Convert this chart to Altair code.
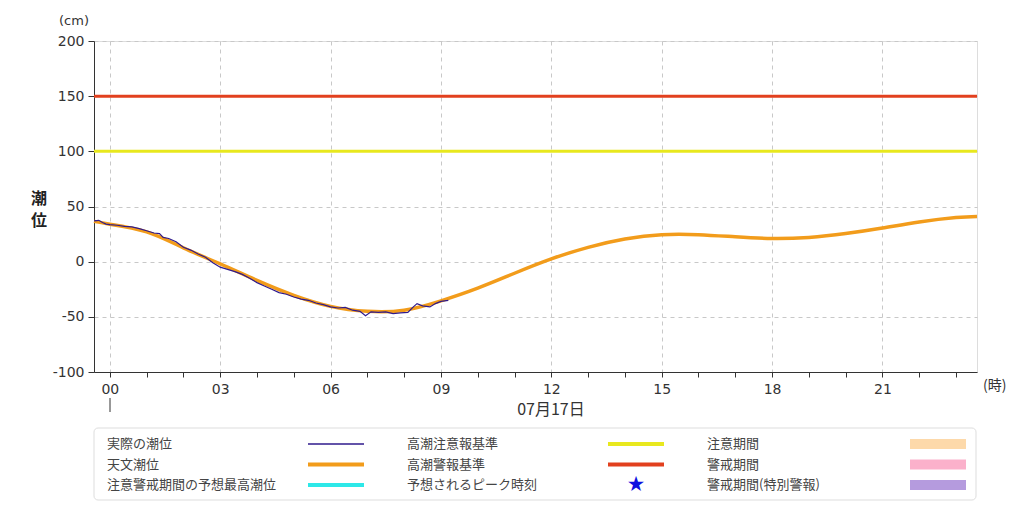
import altair as alt
import pandas as pd

# ---------------- data ----------------
hours_astro = [-0.43, 0, 1, 2, 3, 4, 5, 6, 7, 8, 9, 10, 11, 12, 13, 14, 15, 16,
               17, 18, 19, 20, 21, 22, 23, 23.57]
astro_cm = [36.5, 34, 27, 12.5, -2, -17, -30.5, -40.5, -45, -44, -35.5, -24, -10.5, 2.5,
            13, 20.5, 24.5, 24.5, 22.5, 21, 22, 25.5, 30.5, 36, 40, 41]

hours_obs = [-0.43, -0.3, -0.2, -0.1, 0, 0.2, 0.4, 0.6, 0.8, 1.0, 1.2, 1.35, 1.45,
             1.6, 1.8, 2.0, 2.2, 2.4, 2.6, 2.8, 3.0, 3.2, 3.4, 3.6, 3.8, 4.0, 4.2,
             4.4, 4.6, 4.8, 5.0, 5.2, 5.4, 5.6, 5.8, 6.0, 6.2, 6.4, 6.6, 6.8, 6.95,
             7.1, 7.3, 7.5, 7.7, 7.9, 8.1, 8.25, 8.35, 8.5, 8.7, 8.85, 9.0, 9.2]
obs_cm = [37, 37.5, 35.5, 34, 33.5, 33, 32, 31.5, 30, 28, 26, 25.5, 22,
          21, 18, 13, 10.5, 7, 4, -1, -5, -7, -9, -11.5, -15, -19, -22,
          -25, -28, -29.5, -32, -34, -35, -37.5, -39, -41, -42, -41.5, -44, -45, -49,
          -45.5, -46, -45.5, -47, -46.5, -46, -41, -38, -40, -41, -38, -36, -35]

threshold_names = ["高潮注意報基準", "高潮警報基準"]
threshold_cm = [100, 150]
threshold_colors = ["#E8E81E", "#E2401E"]

hour_ticks = list(range(0, 24))
y_ticks = [-100, -50, 0, 50, 100, 150, 200]

date_label = "07月17日"
unit_x = "(時)"
unit_y = "(cm)"
y_title = ["潮", "位"]

legend_col1 = ["実際の潮位", "天文潮位", "注意警戒期間の予想最高潮位"]
legend_col1_colors = ["#2F1A8C", "#F29C1B", "#2DE8E8"]
legend_col2 = ["高潮注意報基準", "高潮警報基準", "予想されるピーク時刻"]
legend_col2_colors = ["#E8E81E", "#E2401E", "#1010E0"]
legend_col3 = ["注意期間", "警戒期間", "警戒期間(特別警報)"]
legend_col3_colors = ["#FDD9AA", "#FBB1CB", "#B59BDE"]

# ---------------- chart ----------------
W, H = 883, 331
NUM_FONT = "DejaVu Sans"
JP_FONT = "Noto Sans CJK JP"
TXT = "#333333"

x_scale = alt.Scale(domain=[-0.43, 23.57], nice=False, zero=False)
y_scale = alt.Scale(domain=[-100, 200], nice=False, zero=False)

x_axis = alt.Axis(
    values=hour_ticks, grid=True, gridDash=[4, 4], gridColor="#c8c8c8",
    gridOpacity={"condition": {"test": "datum.value % 3 === 0", "value": 1}, "value": 0},
    title=None,
    labelExpr="datum.value % 3 === 0 ? (datum.value < 10 ? '0' + datum.value : '' + datum.value) : ''",
    tickSize=5, tickColor="#333", domainColor="#333", labelPadding=5,
    labelFont=NUM_FONT, labelFontSize=14, labelColor=TXT,
)
y_axis = alt.Axis(
    values=y_ticks, grid=True, gridDash=[4, 4], gridColor="#c8c8c8", title=None,
    labelExpr="'' + datum.value",
    tickSize=6, tickColor="#333", domainColor="#333", labelPadding=4,
    labelFont=NUM_FONT, labelFontSize=14, labelColor=TXT,
)

X = alt.X("t:Q", scale=x_scale, axis=x_axis)
Y = alt.Y("v:Q", scale=y_scale, axis=y_axis)

astro_df = pd.DataFrame({"t": hours_astro, "v": astro_cm})
obs_df = pd.DataFrame({"t": hours_obs, "v": obs_cm})
thr_df = pd.DataFrame({"name": threshold_names, "v": threshold_cm})

astro = alt.Chart(astro_df).mark_line(color="#F29C1B", strokeWidth=3.5, interpolate="natural").encode(x=X, y=Y)
obs = alt.Chart(obs_df).mark_line(color="#2F1A8C", strokeWidth=1.2).encode(x=X, y=Y)

thr = alt.Chart(thr_df).mark_rule(strokeWidth=3).encode(
    y=Y,
    color=alt.Color("name:N", scale=alt.Scale(domain=threshold_names, range=threshold_colors), legend=None),
)

dummy = pd.DataFrame({"a": [0]})


def text_at(txt, x, y, size, font=JP_FONT, weight="normal", align="left", color=TXT):
    return alt.Chart(dummy).mark_text(
        text=txt, fontSize=size, font=font, fontWeight=weight, align=align,
        baseline="middle", color=color,
    ).encode(x=alt.value(x), y=alt.value(y))


deco = []
# day marker under 00 and date label
deco.append(alt.Chart(dummy).mark_rule(color="#333", strokeWidth=1).encode(
    x=alt.value(16), y=alt.value(357), y2=alt.value(371)))
deco.append(text_at(date_label, 457, 369, 16, align="center"))
deco.append(text_at(unit_x, 889, 345, 14, align="left"))
deco.append(text_at(unit_y, -20, -20, 13, font=NUM_FONT, align="center"))
deco.append(text_at(y_title[0], -55, 158, 16, weight="bold", align="center", color="#222"))
deco.append(text_at(y_title[1], -55, 180, 16, weight="bold", align="center", color="#222"))

# legend box
deco.append(alt.Chart(dummy).mark_rect(fill="white", stroke="#dddddd", strokeWidth=1, cornerRadius=4).encode(
    x=alt.value(0), x2=alt.value(882), y=alt.value(387), y2=alt.value(459)))

rows = [403, 423.5, 444]
widths1 = [1.3, 4, 4]
for i in range(3):
    deco.append(text_at(legend_col1[i], 13, rows[i], 13, color="#444"))
    deco.append(alt.Chart(dummy).mark_rule(color=legend_col1_colors[i], strokeWidth=widths1[i]).encode(
        x=alt.value(214), x2=alt.value(270), y=alt.value(rows[i])))
    deco.append(text_at(legend_col2[i], 313, rows[i], 13, color="#444"))
    if i < 2:
        deco.append(alt.Chart(dummy).mark_rule(color=legend_col2_colors[i], strokeWidth=4).encode(
            x=alt.value(514), x2=alt.value(570), y=alt.value(rows[i])))
    else:
        deco.append(text_at("★", 542, rows[i], 17, align="center", color=legend_col2_colors[i]))
    deco.append(text_at(legend_col3[i], 613, rows[i], 13, color="#444"))
    deco.append(alt.Chart(dummy).mark_rect(color=legend_col3_colors[i]).encode(
        x=alt.value(816), x2=alt.value(872), y=alt.value(rows[i] - 5), y2=alt.value(rows[i] + 5)))

chart = alt.layer(thr, astro, obs, *deco).properties(
    width=W, height=H,
    autosize=alt.AutoSizeParams(type="none"),
    padding={"left": 86, "top": 33, "right": 39, "bottom": 133},
).configure_view(stroke="#444", strokeWidth=1).configure(background="white")

chart.save("out.html", embed_options={"renderer": "svg", "actions": False})
